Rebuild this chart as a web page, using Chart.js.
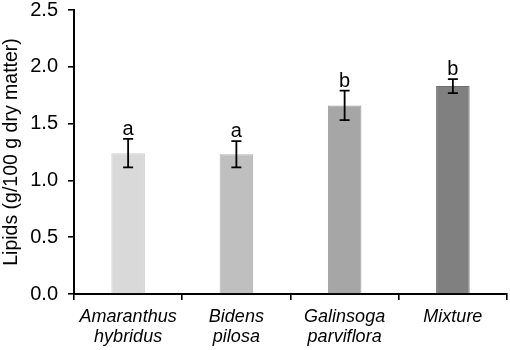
<!DOCTYPE html>
<html>
<head>
<meta charset="utf-8">
<script src="https://cdn.jsdelivr.net/npm/chart.js@4/dist/chart.umd.min.js"></script>
<style>
  html, body { margin: 0; padding: 0; background: #fff; }
  #wrap { width: 510px; height: 350px; }
</style>
</head>
<body>
<div id="wrap"><canvas id="chart"></canvas></div>
<script>
// data
const categories = [['Amaranthus', 'hybridus'], ['Bidens', 'pilosa'], ['Galinsoga', 'parviflora'], ['Mixture']];
const lipids = [1.24, 1.23, 1.66, 1.83];
const errors = [0.125, 0.115, 0.13, 0.062];
const letters = ['a', 'a', 'b', 'b'];
const yTicks = [0, 0.5, 1.0, 1.5, 2.0, 2.5];

const barColors = ['#d9d9d9', '#bfbfbf', '#a6a6a6', '#808080'];
const barBorders = ['#cfcfcf', '#b3b3b3', '#9a9a9a', '#707070'];
const fontFamily = '"Liberation Sans", Arial, sans-serif';

// error bars + letters
const errorBarPlugin = {
    id: 'errorBars',
    afterDatasetsDraw(chart) {
        const ctx = chart.ctx;
        const meta = chart.getDatasetMeta(0);
        const y = chart.scales.y;
        ctx.save();
        ctx.strokeStyle = '#000';
        ctx.lineWidth = 1.8;
        meta.data.forEach((bar, i) => {
            const x = bar.x;
            const top = y.getPixelForValue(lipids[i] + errors[i]);
            const bottom = y.getPixelForValue(lipids[i] - errors[i]);
            ctx.beginPath();
            ctx.moveTo(x, top);
            ctx.lineTo(x, bottom);
            ctx.moveTo(x - 5, top);
            ctx.lineTo(x + 5, top);
            ctx.moveTo(x - 5, bottom);
            ctx.lineTo(x + 5, bottom);
            ctx.stroke();

            ctx.fillStyle = '#000';
            ctx.font = '20px ' + fontFamily;
            ctx.textAlign = 'center';
            ctx.textBaseline = 'alphabetic';
            ctx.fillText(letters[i], x, top - 4);
        });
        ctx.restore();
    }
};

const ctx = document.getElementById('chart').getContext('2d');

const config = {
    type: 'bar',
    data: {
        labels: categories,
        datasets: [{
            data: lipids,
            backgroundColor: barColors,
            borderColor: barBorders,
            borderWidth: 1,
            categoryPercentage: 1,
            barPercentage: 0.31
        }]
    },
    options: {
        responsive: true,
        maintainAspectRatio: false,
        animation: false,
        layout: { padding: { top: 0, right: 3, left: 0, bottom: 0 } },
        plugins: {
            legend: { display: false },
            tooltip: { enabled: false }
        },
        scales: {
            x: {
                grid: {
                    offset: true,
                    drawOnChartArea: false,
                    drawTicks: true,
                    tickLength: 6,
                    color: '#000',
                    lineWidth: 1.6
                },
                border: { color: '#000', width: 2 },
                ticks: {
                    color: '#000',
                    font: { family: fontFamily, size: 18, style: 'italic', lineHeight: 1.12 },
                    padding: 7,
                    maxRotation: 0
                },
                afterFit(scale) { scale.height = 56; }
            },
            y: {
                min: 0,
                max: 2.5,
                afterBuildTicks(scale) {
                    scale.ticks = yTicks.map(v => ({ value: v }));
                },
                grid: {
                    drawOnChartArea: false,
                    drawTicks: true,
                    tickLength: 6,
                    color: '#000',
                    lineWidth: 1.6
                },
                border: { color: '#000', width: 2 },
                ticks: {
                    color: '#000',
                    font: { family: fontFamily, size: 20 },
                    padding: 10,
                    callback: v => v.toFixed(1)
                },
                title: {
                    display: true,
                    text: 'Lipids (g/100 g dry matter)',
                    color: '#000',
                    font: { family: fontFamily, size: 19.5 },
                    padding: { top: 0, bottom: 2 }
                },
                afterFit(scale) {
                    scale.width = 74;
                    scale.paddingTop = 10;
                    scale.paddingBottom = 0;
                }
            }
        }
    },
    plugins: [errorBarPlugin]
};

const chart = new Chart(ctx, config);
</script>
</body>
</html>
